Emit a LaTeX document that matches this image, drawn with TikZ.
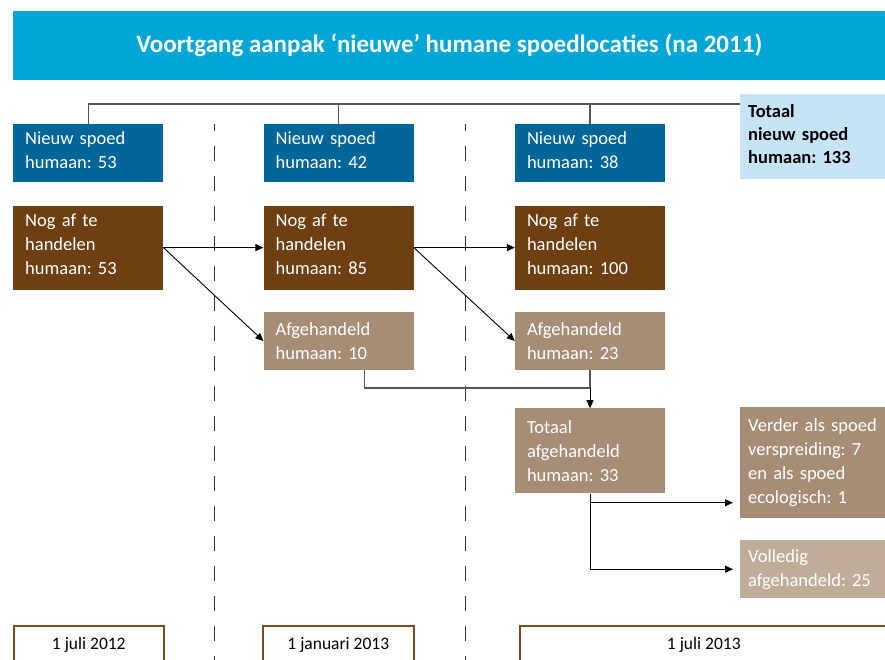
\documentclass[tikz,border=0pt]{standalone}
\usepackage{fontspec}
\setmainfont{Carlito}
\frenchspacing
\usetikzlibrary{positioning, arrows.meta}

\definecolor{titelblauw}{RGB}{0,166,214}
\definecolor{spoedblauw}{RGB}{0,102,153}
\definecolor{lichtblauw}{RGB}{198,228,245}
\definecolor{donkerbruin}{RGB}{110,63,17}
\definecolor{middenbruin}{RGB}{167,141,118}
\definecolor{lichtbruin}{RGB}{192,173,153}
\definecolor{datumbruin}{RGB}{120,75,35}
\definecolor{lijngrijs}{RGB}{85,85,85}

\begin{document}
\begin{tikzpicture}[
    x=1pt, y=-1pt,
    font=\fontsize{18.5}{24}\selectfont,
    node distance=23pt and 100pt,
    titel/.style={rectangle, fill=titelblauw, text=white, minimum width=872pt,
                  minimum height=69pt, font=\bfseries\fontsize{25}{28}\selectfont},
    spoed/.style={rectangle, fill=spoedblauw, text=white, text width=126pt,
                  inner xsep=12pt, inner ysep=0pt, minimum height=58pt, align=left},
    hoog/.style={execute at end node={\\[-17pt]\mbox{}}},
    open/.style={spoed, fill=donkerbruin, minimum height=84pt},
    klaar/.style={spoed, fill=middenbruin},
    rechts/.style={spoed, text width=129pt, inner xsep=8pt},
    totaal/.style={rechts, fill=lichtblauw, text=black, font=\bfseries\fontsize{18.5}{23}\selectfont,
                   minimum height=85pt},
    datum/.style={rectangle, draw=datumbruin, line width=1.6pt, fill=white, text=black,
                  minimum height=38pt, font=\fontsize{17.5}{20}\selectfont},
    grens/.style={black!80, line width=0.9pt, dash pattern=on 15pt off 15pt, dash phase=8pt},
    bus/.style={lijngrijs, line width=1.2pt},
    lijn/.style={lijngrijs, line width=1.1pt},
    pijl/.style={-{Triangle[length=8pt, width=7pt]}, black, line width=0.9pt}
]
\useasboundingbox (0,0) rectangle (885,660);
\clip (0,0) rectangle (885,660);
% --- Peilmomenten (stippellijnen) ---
\coordinate (grens1a) at (214,124);
\coordinate (grens1b) at (214,660);
\coordinate (grens2a) at (465,124);
\coordinate (grens2b) at (465,660);
\draw[grens] (grens1a) -- (grens1b);
\draw[grens] (grens2a) -- (grens2b);
% --- Titel ---
\node[titel, anchor=north west] (titel) at (13,11)
    {Voortgang aanpak ‘nieuwe’ humane spoedlocaties (na 2011)};
% --- Nieuw spoed ---
\node[spoed, hoog, anchor=north west] (nieuw1) at (13,124) {Nieuw spoed\\humaan: 53};
\node[spoed, hoog, right=100pt of nieuw1] (nieuw2) {Nieuw spoed\\humaan: 42};
\node[spoed, hoog, right=101pt of nieuw2] (nieuw3) {Nieuw spoed\\humaan: 38};
\node[totaal, hoog, anchor=north west] (totnieuw) at (740,94) {Totaal\\nieuw spoed\\humaan: 133};
% --- Nog af te handelen ---
\node[open, hoog, below=of nieuw1] (open1) {Nog af te\\handelen\\humaan: 53};
\node[open, hoog, below=of nieuw2] (open2) {Nog af te\\handelen\\humaan: 85};
\node[open, hoog, below=of nieuw3] (open3) {Nog af te\\handelen\\humaan: 100};
% --- Afgehandeld ---
\node[klaar, below=22pt of open2] (klaar2) {Afgehandeld\\humaan: 10};
\node[klaar, below=22pt of open3] (klaar3) {Afgehandeld\\humaan: 23};
\node[klaar, minimum height=85pt, below=38pt of klaar3] (totklaar) {Totaal\\afgehandeld\\humaan: 33};
\node[rechts, fill=middenbruin, minimum height=111pt, anchor=north west] (verder) at (740,407)
    {Verder als spoed\\verspreiding: 7\\en als spoed\\ecologisch: 1};
\node[rechts, fill=lichtbruin, anchor=north west] (volledig) at (740,540) {Volledig\\afgehandeld: 25};
% --- Data ---
\node[datum, minimum width=150pt, anchor=north west] (datum1) at (13,625) {1 juli 2012};
\node[datum, minimum width=151pt, anchor=north west] (datum2) at (262,625) {1 januari 2013};
\node[datum, minimum width=368pt, anchor=north west] (datum3) at (519,625) {1 juli 2013};
% --- Verbindingen ---
\coordinate (bus) at (740,104);
\draw[bus] (nieuw1.north) |- (bus);
\foreach \n in {nieuw2, nieuw3}
    \draw[bus] (\n.north) -- (\n.north |- bus);
\foreach \a/\b in {open1/open2, open1/klaar2, open2/open3, open2/klaar3}
    \draw[pijl] (\a.east) -- (\b.west);
\coordinate (hoogte) at (0,388);
\coordinate (samen) at (klaar3.south |- hoogte);
\draw[lijn] ([xshift=26pt]klaar2.south) |- (samen);
\draw[lijn] (klaar3.south) -- (samen);
\draw[pijl] (samen) -- (totklaar.north);
\draw[pijl, shorten >=7pt] (totklaar.south) |- ([yshift=-40pt]verder.west);
\draw[pijl, shorten >=7pt] (totklaar.south) |- (volledig.west);
\end{tikzpicture}
\end{document}
